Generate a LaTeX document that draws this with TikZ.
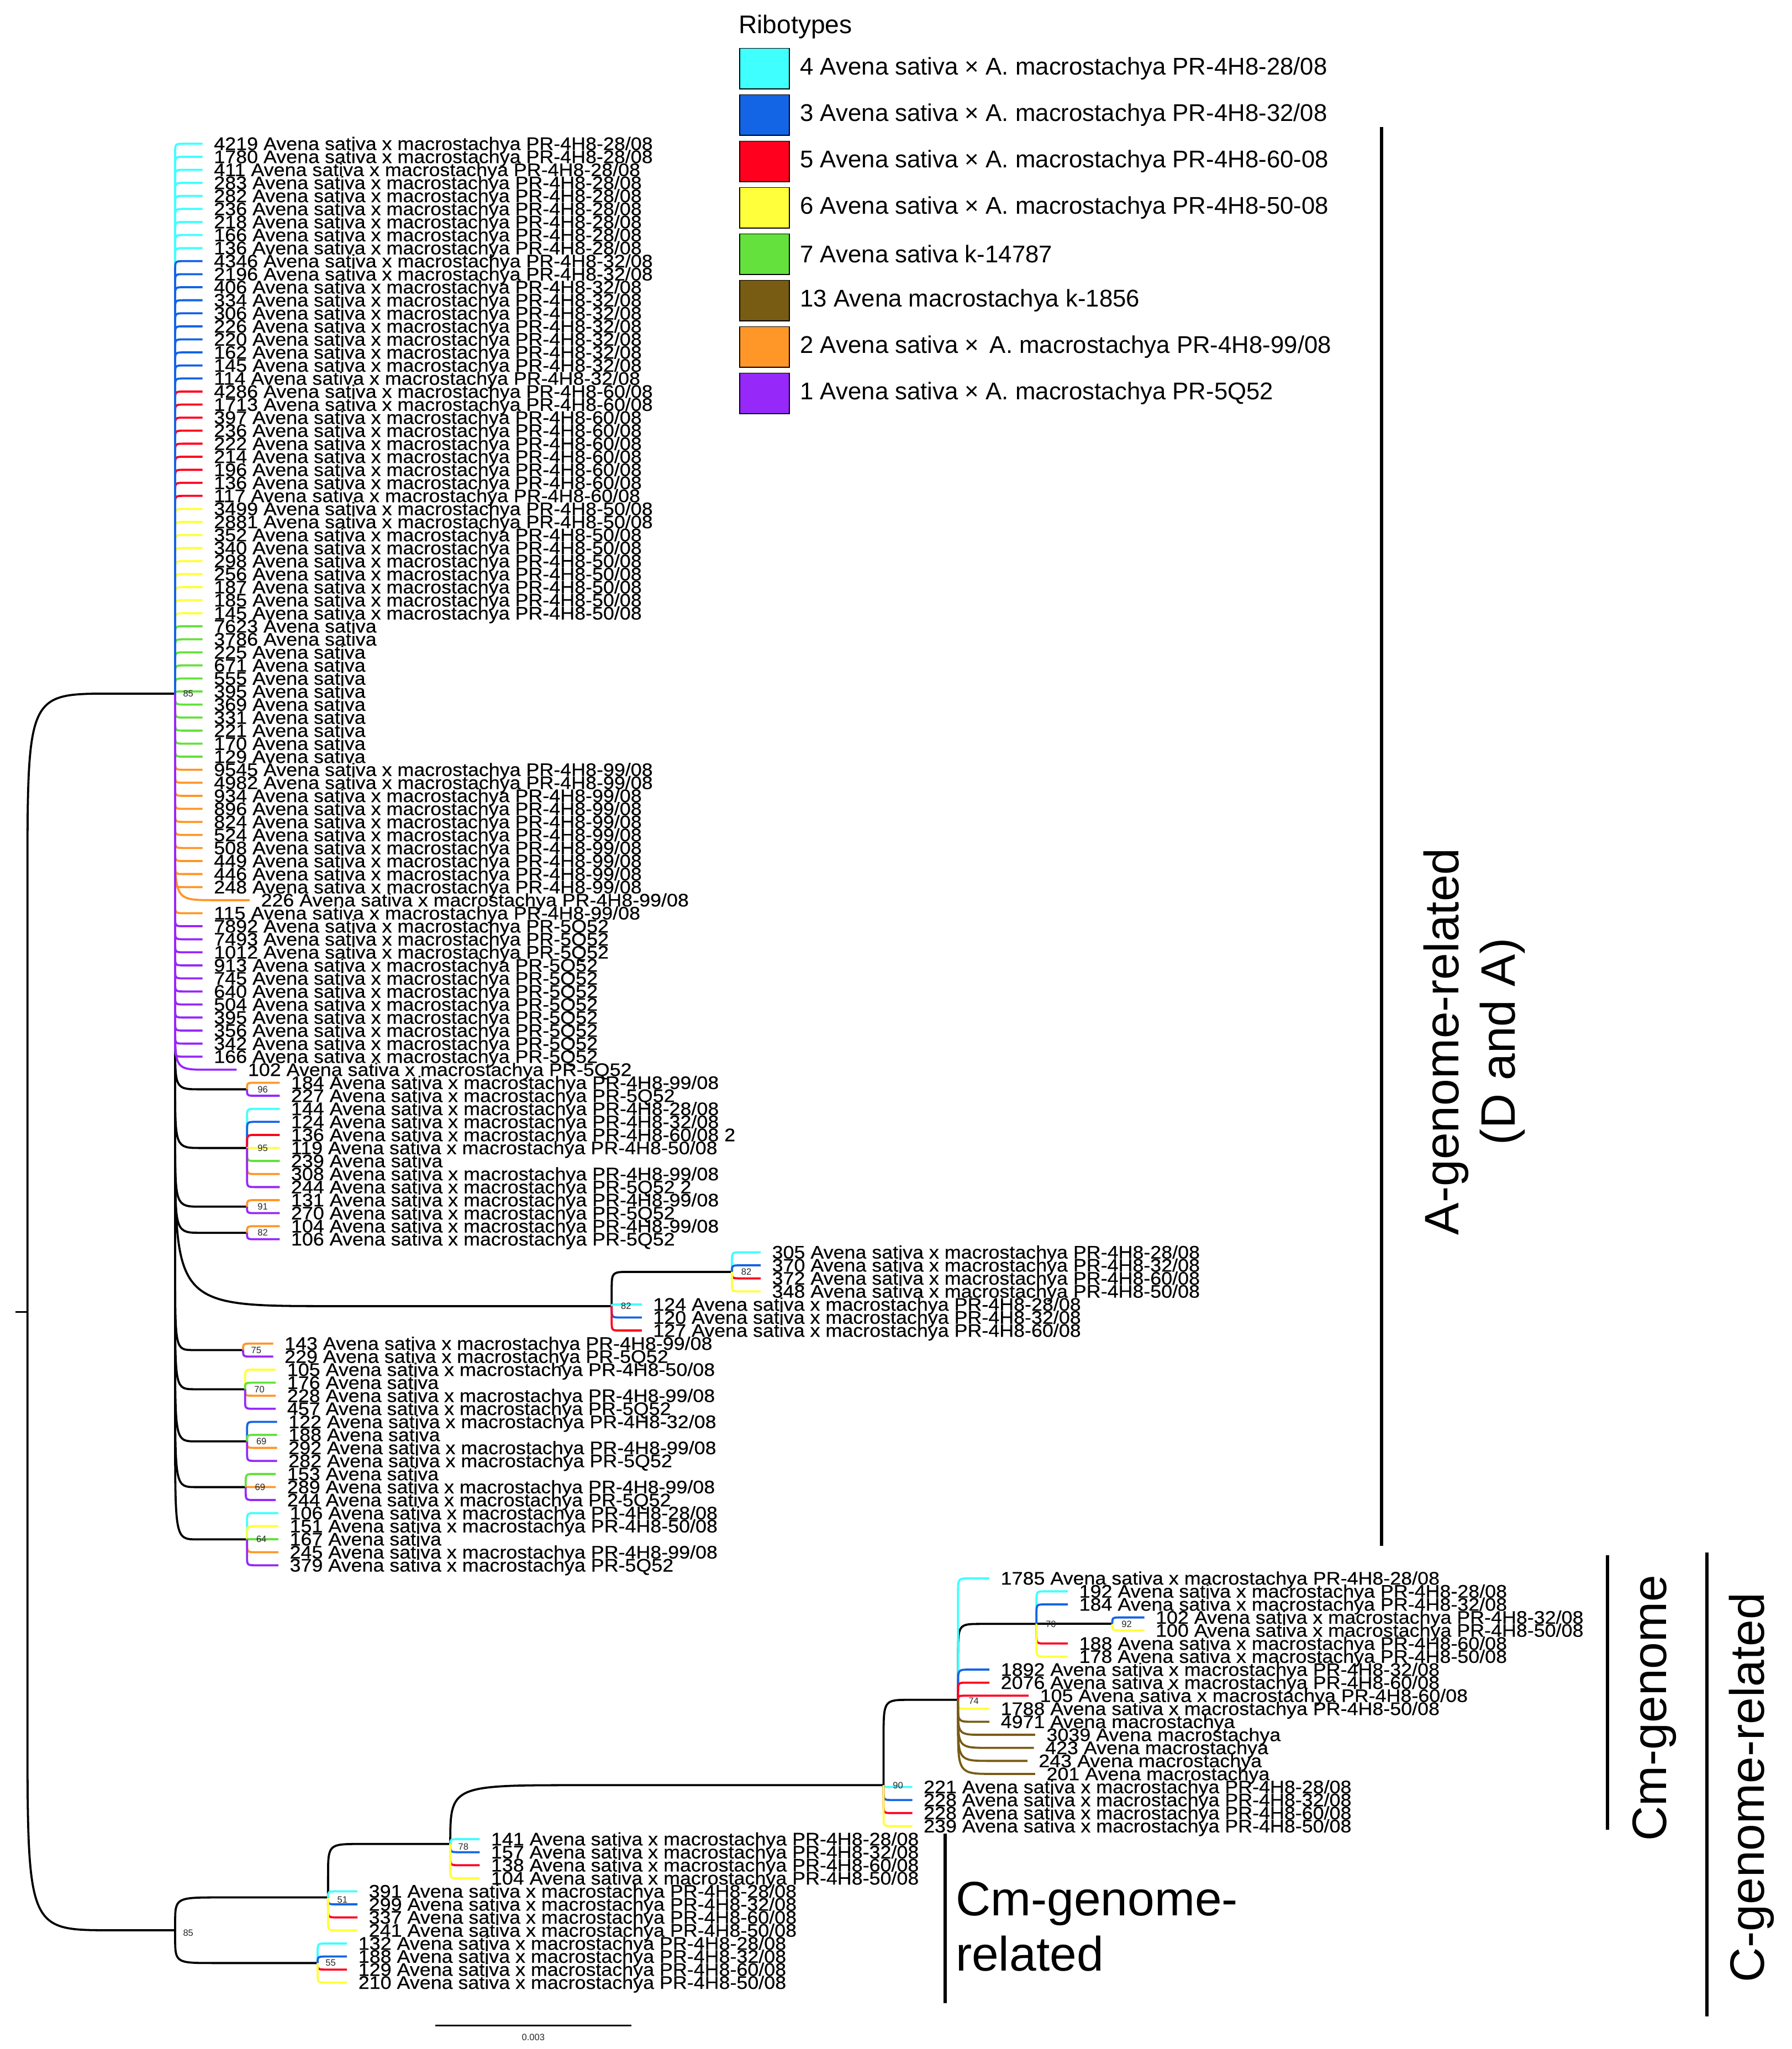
\documentclass[tikz,border=0pt]{standalone}
\usepackage{fontspec}
\setmainfont{Liberation Sans}
\newfontfamily\labfont[FakeStretch=1.09,FakeBold=0.4]{Liberation Sans}
\usetikzlibrary{calc}

\newcommand{\sxm}{Avena sativa x macrostachya}
\newcommand{\leaf}[7][]{%
	\coordinate (#3) at (#4,{110+9.98*#5});
	\draw[br,#6,#1] (#2) to[rnd] (#3);
	\node[lab] (#3t) at ([xshift=8.5pt,yshift=-4.8pt]#3) {#7};
}

\tikzset{
	bendx/.store in=\bendx, bendy/.store in=\bendy,
	bendx=7, bendy=7,
	rnd/.style={to path={let \p1=(\tikztostart), \p2=(\tikztotarget) in
		-- (\x1,{\y2+min(\bendy,abs(\y1-(\y2)))*sign(\y1-(\y2))})
		.. controls (\x1,\y2) .. ({\x1+min(\bendx,\x2-(\x1))},\y2) -- (\tikztotarget)}},
	br/.style={line width=1.6pt},
	lab/.style={anchor=base west, inner sep=0pt, font=\labfont\fontsize{13.9}{13.9}\selectfont},
	boot/.style={inner sep=0pt, text=black!85, font=\fontsize{7}{7}\selectfont},
	legtext/.style={anchor=west, inner sep=0pt, font=\fontsize{18.5}{18.5}\selectfont},
	big/.style={inner sep=0pt, font=\fontsize{37}{43}\selectfont},
	bar/.style={line width=2.4pt}
}

\begin{document}
\begin{tikzpicture}[x=1pt,y=-1pt]
\useasboundingbox (0,0) rectangle (1371,1568);
\definecolor{rib4}{RGB}{64,255,255}
\definecolor{rib3}{RGB}{20,100,230}
\definecolor{rib5}{RGB}{255,0,30}
\definecolor{rib6}{RGB}{255,255,60}
\definecolor{rib7}{RGB}{100,225,60}
\definecolor{rib13}{RGB}{120,92,20}
\definecolor{rib2}{RGB}{255,150,40}
\definecolor{rib1}{RGB}{150,40,250}

	\node[anchor=base west, inner sep=0pt, font=\fontsize{19.5}{19.5}\selectfont] (ribo) at (565,25.5) {Ribotypes};
	\filldraw[rib4, draw=black, line width=0.8pt] (566,37) rectangle (604,68);
	\node[legtext] (leg4) at (612,52.5) {4 Avena sativa × A. macrostachya PR-4H8-28/08};
	\filldraw[rib3, draw=black, line width=0.8pt] (566,72.5) rectangle (604,103.5);
	\node[legtext] (leg3) at (612,88) {3 Avena sativa × A. macrostachya PR-4H8-32/08};
	\filldraw[rib5, draw=black, line width=0.8pt] (566,108) rectangle (604,139);
	\node[legtext] (leg5) at (612,123.5) {5 Avena sativa × A. macrostachya PR-4H8-60-08};
	\filldraw[rib6, draw=black, line width=0.8pt] (566,143.5) rectangle (604,174.5);
	\node[legtext] (leg6) at (612,159) {6 Avena sativa × A. macrostachya PR-4H8-50-08};
	\filldraw[rib7, draw=black, line width=0.8pt] (566,179) rectangle (604,210);
	\node[legtext] (leg7) at (612,194.5) {7 Avena sativa k-14787};
	\filldraw[rib13, draw=black, line width=0.8pt] (566,214.5) rectangle (604,245.5);
	\node[legtext] (leg13) at (612,230) {13 Avena macrostachya k-1856};
	\filldraw[rib2, draw=black, line width=0.8pt] (566,250) rectangle (604,281);
	\node[legtext] (leg2) at (612,265.5) {2 Avena sativa ×\, A. macrostachya PR-4H8-99/08};
	\filldraw[rib1, draw=black, line width=0.8pt] (566,285.5) rectangle (604,316.5);
	\node[legtext] (leg1) at (612,301) {1 Avena sativa × A. macrostachya PR-5Q52};

	\coordinate (rs) at (12,1004);
	\coordinate (r0) at (21,1004);
	\coordinate (nA) at (134,530.8);
	\coordinate (nC) at (134,1477.1);
	\draw[br] (rs) -- (r0);
	\draw[br,bendx=64,bendy=146] (r0) to[rnd] (nA);
	\draw[br,bendx=64,bendy=160] (r0) to[rnd] (nC);

	\coordinate (n96) at (189,833.6);
	\coordinate (n95) at (189,878.5);
	\coordinate (n91) at (189,923.4);
	\coordinate (n82a) at (189,943.4);
	\coordinate (n82L) at (468,999.5);
	\coordinate (n82s) at (560,973.3);
	\coordinate (n75) at (186,1033.1);
	\coordinate (n70) at (187.5,1063.1);
	\coordinate (n69a) at (189,1103);
	\coordinate (n69b) at (188,1138);
	\coordinate (n64) at (189,1178);
	\draw[br,bendx=20,bendy=35] (nA) to[rnd] (n96);
	\draw[br,bendx=20,bendy=50] (nA) to[rnd] (n95);
	\draw[br,bendx=20,bendy=55] (nA) to[rnd] (n91);
	\draw[br,bendx=20,bendy=60] (nA) to[rnd] (n82a);
	\draw[br,bendx=120,bendy=130] (nA) to[rnd] (n82L);
	\draw[br,bendx=14,bendy=14] (n82L) to[rnd] (n82s);
	\draw[br,bendx=14,bendy=65] (nA) to[rnd] (n75);
	\draw[br,bendx=15,bendy=70] (nA) to[rnd] (n70);
	\draw[br,bendx=16,bendy=75] (nA) to[rnd] (n69a);
	\draw[br,bendx=16,bendy=80] (nA) to[rnd] (n69b);
	\draw[br,bendx=17,bendy=85] (nA) to[rnd] (n64);

	\coordinate (n55) at (243,1502.2);
	\coordinate (n51) at (251,1452);
	\coordinate (n78) at (344.5,1411.1);
	\coordinate (n90) at (676,1366.1);
	\coordinate (n74) at (733,1300.8);
	\coordinate (n70c) at (793,1242.7);
	\coordinate (n92) at (851,1242.7);
	\draw[br,bendx=35,bendy=20] (nC) to[rnd] (n51);
	\draw[br,bendx=30,bendy=20] (nC) to[rnd] (n55);
	\draw[br,bendx=25,bendy=25] (n51) to[rnd] (n78);
	\draw[br,bendx=100,bendy=45] (n78) to[rnd] (n90);
	\draw[br,bendx=20,bendy=30] (n90) to[rnd] (n74);
	\draw[br,bendx=18,bendy=25] (n74) to[rnd] (n70c);
	\draw[br] (n70c) -- (n92);

	\leaf{nA}{lf1}{155}{1}{rib4}{1780 \sxm{} PR-4H8-28/08}
	\leaf{nA}{lf2}{155}{2}{rib4}{411 \sxm{} PR-4H8-28/08}
	\leaf{nA}{lf3}{155}{3}{rib4}{283 \sxm{} PR-4H8-28/08}
	\leaf{nA}{lf4}{155}{4}{rib4}{282 \sxm{} PR-4H8-28/08}
	\leaf{nA}{lf5}{155}{5}{rib4}{236 \sxm{} PR-4H8-28/08}
	\leaf{nA}{lf6}{155}{6}{rib4}{218 \sxm{} PR-4H8-28/08}
	\leaf{nA}{lf7}{155}{7}{rib4}{166 \sxm{} PR-4H8-28/08}
	\leaf{nA}{lf8}{155}{8}{rib4}{136 \sxm{} PR-4H8-28/08}
	\leaf{nA}{lf10}{155}{10}{rib3}{2196 \sxm{} PR-4H8-32/08}
	\leaf{nA}{lf11}{155}{11}{rib3}{406 \sxm{} PR-4H8-32/08}
	\leaf{nA}{lf12}{155}{12}{rib3}{334 \sxm{} PR-4H8-32/08}
	\leaf{nA}{lf13}{155}{13}{rib3}{306 \sxm{} PR-4H8-32/08}
	\leaf{nA}{lf14}{155}{14}{rib3}{226 \sxm{} PR-4H8-32/08}
	\leaf{nA}{lf15}{155}{15}{rib3}{220 \sxm{} PR-4H8-32/08}
	\leaf{nA}{lf16}{155}{16}{rib3}{162 \sxm{} PR-4H8-32/08}
	\leaf{nA}{lf17}{155}{17}{rib3}{145 \sxm{} PR-4H8-32/08}
	\leaf{nA}{lf18}{155}{18}{rib3}{114 \sxm{} PR-4H8-32/08}
	\leaf{nA}{lf19}{155}{19}{rib5}{4286 \sxm{} PR-4H8-60/08}
	\leaf{nA}{lf20}{155}{20}{rib5}{1713 \sxm{} PR-4H8-60/08}
	\leaf{nA}{lf21}{155}{21}{rib5}{397 \sxm{} PR-4H8-60/08}
	\leaf{nA}{lf22}{155}{22}{rib5}{236 \sxm{} PR-4H8-60/08}
	\leaf{nA}{lf23}{155}{23}{rib5}{222 \sxm{} PR-4H8-60/08}
	\leaf{nA}{lf24}{155}{24}{rib5}{214 \sxm{} PR-4H8-60/08}
	\leaf{nA}{lf25}{155}{25}{rib5}{196 \sxm{} PR-4H8-60/08}
	\leaf{nA}{lf26}{155}{26}{rib5}{136 \sxm{} PR-4H8-60/08}
	\leaf{nA}{lf27}{155}{27}{rib5}{117 \sxm{} PR-4H8-60/08}
	\leaf{nA}{lf28}{155}{28}{rib6}{3499 \sxm{} PR-4H8-50/08}
	\leaf{nA}{lf29}{155}{29}{rib6}{2881 \sxm{} PR-4H8-50/08}
	\leaf{nA}{lf30}{155}{30}{rib6}{352 \sxm{} PR-4H8-50/08}
	\leaf{nA}{lf31}{155}{31}{rib6}{340 \sxm{} PR-4H8-50/08}
	\leaf{nA}{lf32}{155}{32}{rib6}{298 \sxm{} PR-4H8-50/08}
	\leaf{nA}{lf33}{155}{33}{rib6}{256 \sxm{} PR-4H8-50/08}
	\leaf{nA}{lf34}{155}{34}{rib6}{187 \sxm{} PR-4H8-50/08}
	\leaf{nA}{lf35}{155}{35}{rib6}{185 \sxm{} PR-4H8-50/08}
	\leaf{nA}{lf36}{155}{36}{rib6}{145 \sxm{} PR-4H8-50/08}
	\leaf{nA}{lf37}{155}{37}{rib7}{7623 Avena sativa}
	\leaf{nA}{lf38}{155}{38}{rib7}{3786 Avena sativa}
	\leaf{nA}{lf39}{155}{39}{rib7}{225 Avena sativa}
	\leaf{nA}{lf40}{155}{40}{rib7}{671 Avena sativa}
	\leaf{nA}{lf41}{155}{41}{rib7}{555 Avena sativa}
	\leaf{nA}{lf42}{155}{42}{rib7}{395 Avena sativa}
	\leaf{nA}{lf43}{155}{43}{rib7}{369 Avena sativa}
	\leaf{nA}{lf44}{155}{44}{rib7}{331 Avena sativa}
	\leaf{nA}{lf45}{155}{45}{rib7}{221 Avena sativa}
	\leaf{nA}{lf46}{155}{46}{rib7}{170 Avena sativa}
	\leaf{nA}{lf47}{155}{47}{rib7}{129 Avena sativa}
	\leaf{nA}{lf48}{155}{48}{rib2}{9545 \sxm{} PR-4H8-99/08}
	\leaf{nA}{lf49}{155}{49}{rib2}{4982 \sxm{} PR-4H8-99/08}
	\leaf{nA}{lf50}{155}{50}{rib2}{934 \sxm{} PR-4H8-99/08}
	\leaf{nA}{lf51}{155}{51}{rib2}{896 \sxm{} PR-4H8-99/08}
	\leaf{nA}{lf52}{155}{52}{rib2}{824 \sxm{} PR-4H8-99/08}
	\leaf{nA}{lf53}{155}{53}{rib2}{524 \sxm{} PR-4H8-99/08}
	\leaf{nA}{lf54}{155}{54}{rib2}{508 \sxm{} PR-4H8-99/08}
	\leaf{nA}{lf55}{155}{55}{rib2}{449 \sxm{} PR-4H8-99/08}
	\leaf{nA}{lf56}{155}{56}{rib2}{446 \sxm{} PR-4H8-99/08}
	\leaf{nA}{lf57}{155}{57}{rib2}{248 \sxm{} PR-4H8-99/08}
	\leaf[bendx=30,bendy=45]{nA}{lf58}{191}{58}{rib2}{226 \sxm{} PR-4H8-99/08}
	\leaf{nA}{lf59}{155}{59}{rib2}{115 \sxm{} PR-4H8-99/08}
	\leaf{nA}{lf60}{155}{60}{rib1}{7892 \sxm{} PR-5Q52}
	\leaf{nA}{lf61}{155}{61}{rib1}{7493 \sxm{} PR-5Q52}
	\leaf{nA}{lf62}{155}{62}{rib1}{1012 \sxm{} PR-5Q52}
	\leaf{nA}{lf63}{155}{63}{rib1}{913 \sxm{} PR-5Q52}
	\leaf{nA}{lf64}{155}{64}{rib1}{745 \sxm{} PR-5Q52}
	\leaf{nA}{lf65}{155}{65}{rib1}{640 \sxm{} PR-5Q52}
	\leaf{nA}{lf66}{155}{66}{rib1}{504 \sxm{} PR-5Q52}
	\leaf{nA}{lf67}{155}{67}{rib1}{395 \sxm{} PR-5Q52}
	\leaf{nA}{lf68}{155}{68}{rib1}{356 \sxm{} PR-5Q52}
	\leaf{nA}{lf69}{155}{69}{rib1}{342 \sxm{} PR-5Q52}
	\leaf{nA}{lf70}{155}{70}{rib1}{166 \sxm{} PR-5Q52}
	\leaf{nA}{lf0}{155}{0}{rib4}{4219 \sxm{} PR-4H8-28/08}
	\leaf{nA}{lf9}{155}{9}{rib3}{4346 \sxm{} PR-4H8-32/08}
	\leaf[bendx=25,bendy=35]{nA}{lf71}{181}{71}{rib1}{102 \sxm{} PR-5Q52}

	\leaf{n96}{lf72}{214}{72}{rib2}{184 \sxm{} PR-4H8-99/08}
	\leaf{n96}{lf73}{214}{73}{rib1}{227 \sxm{} PR-5Q52}
	\leaf{n95}{lf74}{214}{74}{rib4}{144 \sxm{} PR-4H8-28/08}
	\leaf{n95}{lf75}{214}{75}{rib3}{124 \sxm{} PR-4H8-32/08}
	\leaf{n95}{lf76}{214}{76}{rib5}{136 \sxm{} PR-4H8-60/08 2}
	\leaf{n95}{lf77}{214}{77}{rib6}{119 \sxm{} PR-4H8-50/08}
	\leaf{n95}{lf78}{214}{78}{rib7}{239 Avena sativa}
	\leaf{n95}{lf79}{214}{79}{rib2}{308 \sxm{} PR-4H8-99/08}
	\leaf{n95}{lf80}{214}{80}{rib1}{244 \sxm{} PR-5Q52 2}
	\leaf{n91}{lf81}{214}{81}{rib2}{131 \sxm{} PR-4H8-99/08}
	\leaf{n91}{lf82}{214}{82}{rib1}{270 \sxm{} PR-5Q52}
	\leaf{n82a}{lf83}{214}{83}{rib2}{104 \sxm{} PR-4H8-99/08}
	\leaf{n82a}{lf84}{214}{84}{rib1}{106 \sxm{} PR-5Q52}
	\leaf{n82s}{lf85}{582}{85}{rib4}{305 \sxm{} PR-4H8-28/08}
	\leaf{n82s}{lf86}{582}{86}{rib3}{370 \sxm{} PR-4H8-32/08}
	\leaf{n82s}{lf87}{582}{87}{rib5}{372 \sxm{} PR-4H8-60/08}
	\leaf{n82s}{lf88}{582}{88}{rib6}{348 \sxm{} PR-4H8-50/08}
	\leaf{n82L}{lf89}{491}{89}{rib4}{124 \sxm{} PR-4H8-28/08}
	\leaf{n82L}{lf90}{491}{90}{rib3}{120 \sxm{} PR-4H8-32/08}
	\leaf{n82L}{lf91}{491}{91}{rib5}{127 \sxm{} PR-4H8-60/08}
	\leaf{n75}{lf92}{209}{92}{rib2}{143 \sxm{} PR-4H8-99/08}
	\leaf{n75}{lf93}{209}{93}{rib1}{229 \sxm{} PR-5Q52}
	\leaf{n70}{lf94}{211}{94}{rib6}{105 \sxm{} PR-4H8-50/08}
	\leaf{n70}{lf95}{211}{95}{rib7}{176 Avena sativa}
	\leaf{n70}{lf96}{211}{96}{rib2}{228 \sxm{} PR-4H8-99/08}
	\leaf{n70}{lf97}{211}{97}{rib1}{457 \sxm{} PR-5Q52}
	\leaf{n69a}{lf98}{212}{98}{rib3}{122 \sxm{} PR-4H8-32/08}
	\leaf{n69a}{lf99}{212}{99}{rib7}{188 Avena sativa}
	\leaf{n69a}{lf100}{212}{100}{rib2}{292 \sxm{} PR-4H8-99/08}
	\leaf{n69a}{lf101}{212}{101}{rib1}{282 \sxm{} PR-5Q52}
	\leaf{n69b}{lf102}{211}{102}{rib7}{153 Avena sativa}
	\leaf{n69b}{lf103}{211}{103}{rib2}{289 \sxm{} PR-4H8-99/08}
	\leaf{n69b}{lf104}{211}{104}{rib1}{244 \sxm{} PR-5Q52}
	\leaf{n64}{lf105}{213}{105}{rib4}{106 \sxm{} PR-4H8-28/08}
	\leaf{n64}{lf106}{213}{106}{rib6}{151 \sxm{} PR-4H8-50/08}
	\leaf{n64}{lf107}{213}{107}{rib7}{167 Avena sativa}
	\leaf{n64}{lf108}{213}{108}{rib2}{245 \sxm{} PR-4H8-99/08}
	\leaf{n64}{lf109}{213}{109}{rib1}{379 \sxm{} PR-5Q52}

	\leaf[bendx=10,bendy=10]{n74}{lf110}{757}{110}{rib4}{1785 \sxm{} PR-4H8-28/08}
	\leaf{n70c}{lf111}{817}{111}{rib4}{192 \sxm{} PR-4H8-28/08}
	\leaf{n70c}{lf112}{817}{112}{rib3}{184 \sxm{} PR-4H8-32/08}
	\leaf{n92}{lf113}{875.5}{113}{rib3}{102 \sxm{} PR-4H8-32/08}
	\leaf{n92}{lf114}{875.5}{114}{rib6}{100 \sxm{} PR-4H8-50/08}
	\leaf{n70c}{lf115}{817}{115}{rib5}{188 \sxm{} PR-4H8-60/08}
	\leaf{n70c}{lf116}{817}{116}{rib6}{178 \sxm{} PR-4H8-50/08}
	\leaf[bendx=9,bendy=10]{n74}{lf117}{757}{117}{rib3}{1892 \sxm{} PR-4H8-32/08}
	\leaf{n74}{lf118}{757}{118}{rib5}{2076 \sxm{} PR-4H8-60/08}
	\leaf{n74}{lf119}{787}{119}{rib5}{105 \sxm{} PR-4H8-60/08}
	\leaf{n74}{lf120}{757}{120}{rib6}{1788 \sxm{} PR-4H8-50/08}
	\leaf[bendx=12,bendy=12]{n74}{lf121}{757}{121}{rib13}{4971 Avena macrostachya}
	\leaf[bendx=20,bendy=20]{n74}{lf122}{792}{122}{rib13}{3039 Avena macrostachya}
	\leaf[bendx=24,bendy=28]{n74}{lf123}{791}{123}{rib13}{423 Avena macrostachya}
	\leaf[bendx=25,bendy=33]{n74}{lf124}{786}{124}{rib13}{243 Avena macrostachya}
	\leaf[bendx=28,bendy=38]{n74}{lf125}{792}{125}{rib13}{201 Avena macrostachya}
	\leaf{n90}{lf126}{698}{126}{rib4}{221 \sxm{} PR-4H8-28/08}
	\leaf{n90}{lf127}{698}{127}{rib3}{228 \sxm{} PR-4H8-32/08}
	\leaf{n90}{lf128}{698}{128}{rib5}{228 \sxm{} PR-4H8-60/08}
	\leaf{n90}{lf129}{698}{129}{rib6}{239 \sxm{} PR-4H8-50/08}
	\leaf{n78}{lf130}{367}{130}{rib4}{141 \sxm{} PR-4H8-28/08}
	\leaf{n78}{lf131}{367}{131}{rib3}{157 \sxm{} PR-4H8-32/08}
	\leaf{n78}{lf132}{367}{132}{rib5}{138 \sxm{} PR-4H8-60/08}
	\leaf{n78}{lf133}{367}{133}{rib6}{104 \sxm{} PR-4H8-50/08}
	\leaf{n51}{lf134}{273.5}{134}{rib4}{391 \sxm{} PR-4H8-28/08}
	\leaf{n51}{lf135}{273.5}{135}{rib3}{299 \sxm{} PR-4H8-32/08}
	\leaf{n51}{lf136}{273.5}{136}{rib5}{337 \sxm{} PR-4H8-60/08}
	\leaf{n51}{lf137}{273.5}{137}{rib6}{241 \sxm{} PR-4H8-50/08}
	\leaf{n55}{lf138}{265.5}{138}{rib4}{132 \sxm{} PR-4H8-28/08}
	\leaf{n55}{lf139}{265.5}{139}{rib3}{188 \sxm{} PR-4H8-32/08}
	\leaf{n55}{lf140}{265.5}{140}{rib5}{129 \sxm{} PR-4H8-60/08}
	\leaf{n55}{lf141}{265.5}{141}{rib6}{210 \sxm{} PR-4H8-50/08}

	\node[boot] (bA) at ([xshift=10pt]nA) {85};
	\node[boot] (b96) at ([xshift=12pt]n96) {96};
	\node[boot] (b95) at ([xshift=12pt]n95) {95};
	\node[boot] (b91) at ([xshift=12pt]n91) {91};
	\node[boot] (b82a) at ([xshift=12pt]n82a) {82};
	\node[boot] (b82s) at ([xshift=11pt]n82s) {82};
	\node[boot] (b82L) at ([xshift=11pt]n82L) {82};
	\node[boot] (b75) at ([xshift=10pt]n75) {75};
	\node[boot] (b70) at ([xshift=11pt]n70) {70};
	\node[boot] (b69a) at ([xshift=11pt]n69a) {69};
	\node[boot] (b69b) at ([xshift=11pt]n69b) {69};
	\node[boot] (b64) at ([xshift=11pt]n64) {64};
	\node[boot] (bC) at ([xshift=10pt,yshift=-2pt]nC) {85};
	\node[boot] (b55) at ([xshift=10pt]n55) {55};
	\node[boot] (b51) at ([xshift=11pt,yshift=-2pt]n51) {51};
	\node[boot] (b78) at ([xshift=10pt,yshift=-2pt]n78) {78};
	\node[boot] (b90) at ([xshift=11pt]n90) {90};
	\node[boot] (b74) at ([xshift=12pt,yshift=-1pt]n74) {74};
	\node[boot] (b70c) at ([xshift=11pt]n70c) {70};
	\node[boot] (b92) at ([xshift=11pt]n92) {92};

	\coordinate (sb1) at (333,1550);
	\coordinate (sb2) at (483,1550);
	\draw[line width=1pt] (sb1) -- (sb2);
	\node[boot] (sbl) at (408,1559) {0.003};

	\draw[bar] (1057,97) -- (1057,1183);
	\node[big, rotate=90, align=center] (agen) at (1128,797) {A-genome-related\\(D and A)};
	\draw[bar] (1230,1190) -- (1230,1400);
	\node[big, rotate=90] (cmgen) at (1266,1307) {Cm-genome};
	\draw[bar] (1306,1188) -- (1306,1543);
	\node[big, rotate=90] (cgen) at (1340,1368) {C-genome-related};
	\draw[bar] (723,1403) -- (723,1533);
	\node[big, anchor=base west] (cmrel1) at (731,1466) {Cm-genome-};
	\node[big, anchor=base west] (cmrel2) at (731,1508) {related};
\end{tikzpicture}
\end{document}
